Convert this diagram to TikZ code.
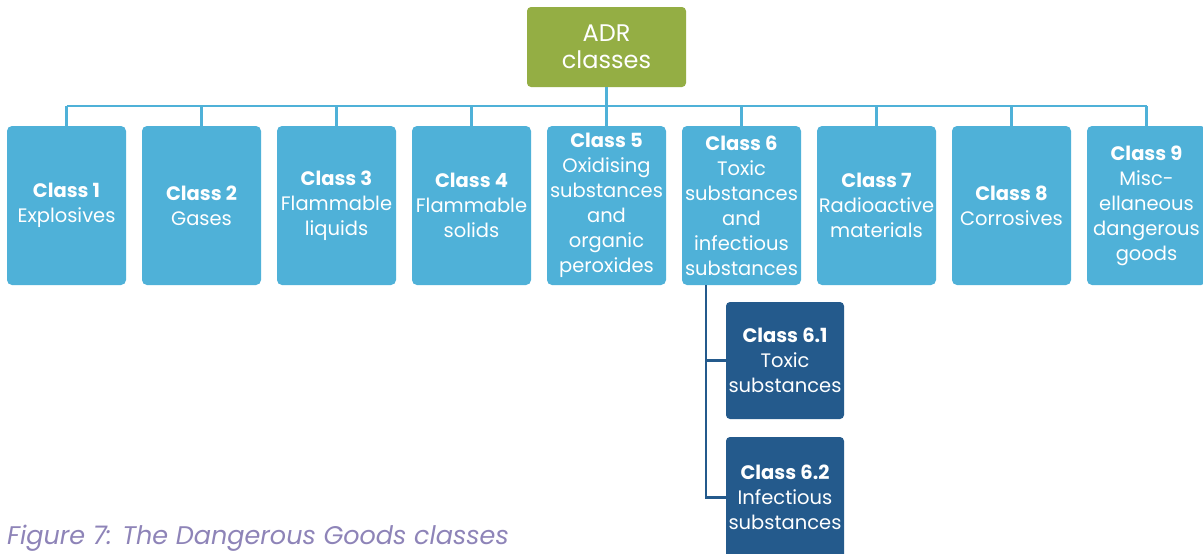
\documentclass[tikz,border=0pt]{standalone}
\usepackage{fontspec}
\setmainfont{Poppins}
\definecolor{lblue}{HTML}{4FB1D8}
\definecolor{dblue}{HTML}{245A8C}
\definecolor{lgreen}{HTML}{94AE44}
\definecolor{capcol}{HTML}{8E84B8}
\begin{document}
\begin{tikzpicture}[x=1pt,y=-1pt,
  cls/.style={fill=lblue, rounded corners=5pt, minimum width=119pt, minimum height=159pt,
    text=white, align=center, font=\fontsize{19.5}{25}\selectfont, inner sep=0pt},
  sub/.style={fill=dblue, rounded corners=4pt, minimum width=118pt, minimum height=117pt,
    text=white, align=center, font=\fontsize{19.5}{25}\selectfont, inner sep=0pt},
  root/.style={fill=lgreen, rounded corners=4pt, minimum width=159pt, minimum height=80pt,
    text=white, align=center, font=\fontsize{24}{27}\selectfont, inner sep=0pt},
  lline/.style={draw=lblue, line width=2.5pt},
  dline/.style={draw=dblue, line width=2.5pt}]
\useasboundingbox (0,0) rectangle (1203,554);
\fill[white] (0,0) rectangle (1203,554);
\node[root] (adr) at (606.5,47) {ADR\\classes};
\coordinate (bus) at (606.5,106);
\node[cls] (c1) at (66.5,205.5) {\textbf{Class 1}\\Explosives};
\node[cls] (c2) at (201.5,205.5) {\textbf{Class 2}\\Gases};
\node[cls] (c3) at (336.5,205.5) {\textbf{Class 3}\\Flammable\\liquids};
\node[cls] (c4) at (471.5,205.5) {\textbf{Class 4}\\Flammable\\solids};
\node[cls] (c5) at (606.5,205.5) {\textbf{Class 5}\\Oxidising\\substances\\and\\organic\\peroxides};
\node[cls] (c6) at (741.5,205.5) {\textbf{Class 6}\\Toxic\\substances\\and\\infectious\\substances};
\node[cls] (c7) at (876.5,205.5) {\textbf{Class 7}\\Radioactive\\materials};
\node[cls] (c8) at (1011.5,205.5) {\textbf{Class 8}\\Corrosives};
\node[cls] (c9) at (1146.5,205.5) {\textbf{Class 9}\\Misc-\\ellaneous\\dangerous\\goods};
\node[sub] (c61) at (785,360.5) {\textbf{Class 6.1}\\Toxic\\substances};
\node[sub, minimum height=121pt] (c62) at (785,497.5) {\textbf{Class 6.2}\\Infectious\\substances};
\draw[lline] (adr.south) -- (bus);
\draw[lline] (c1.north |- bus) -- (c9.north |- bus);
\foreach \n in {c1,c2,c3,c4,c5,c6,c7,c8,c9}
  \draw[lline] (\n.north) -- (\n.north |- bus);
\coordinate (trunk) at (706,285);
\draw[dline] (trunk) |- (c61.west);
\draw[dline] (trunk) |- (c62.west);
\node[anchor=base west, inner sep=0pt, text=capcol, font=\fontsize{25.5}{28}\selectfont\itshape] (cap) at (7,544) {Figure 7: The Dangerous Goods classes};
\end{tikzpicture}
\end{document}
